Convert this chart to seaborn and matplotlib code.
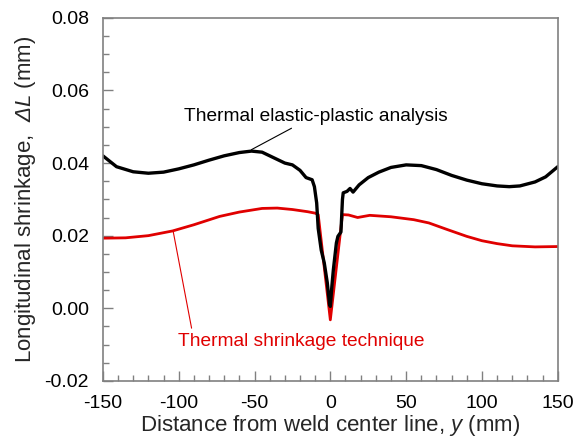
import matplotlib
matplotlib.use("Agg")
import matplotlib.pyplot as plt
import seaborn as sns
import pandas as pd
from matplotlib.ticker import MultipleLocator

# ---- data ----
elastic_x = [-150, -141, -130, -120, -110, -100, -90, -80, -70, -60, -52, -45, -40, -35,
             -30, -25, -20, -16, -12, -10.5, -9, -8, -6, -4, -2, -0.5, 0, 1, 2, 4, 5, 7,
             8, 8.5, 11, 13, 15, 19, 25, 32, 40, 50, 60, 70, 80, 90, 100, 110, 118, 125,
             135, 142, 150]
elastic_y = [0.0420, 0.0390, 0.0376, 0.0372, 0.0375, 0.0384, 0.0395, 0.0408, 0.0420, 0.0429,
             0.0433, 0.0430, 0.0420, 0.0410, 0.0400, 0.0395, 0.0380, 0.0360, 0.0354, 0.0335,
             0.0290, 0.0220, 0.0160, 0.0125, 0.0070, 0.0010, 0.0005, 0.0060, 0.0106, 0.0180,
             0.0198, 0.0210, 0.0300, 0.0318, 0.0322, 0.0330, 0.0320, 0.0340, 0.0360, 0.0375,
             0.0388, 0.0395, 0.0393, 0.0382, 0.0366, 0.0353, 0.0343, 0.0337, 0.0335, 0.0337,
             0.0348, 0.0362, 0.0390]

shrink_x = [-150, -135, -120, -104, -90, -73, -60, -45, -35, -25, -15, -10, -8, 0, 8, 12,
            18, 26, 40, 55, 65, 77, 90, 100, 110, 120, 135, 150]
shrink_y = [0.0193, 0.0194, 0.0200, 0.0213, 0.0230, 0.0253, 0.0265, 0.0275, 0.0276, 0.0272,
            0.0266, 0.0262, 0.0258, -0.0032, 0.0258, 0.0257, 0.0250, 0.0256, 0.0252, 0.0244,
            0.0235, 0.0217, 0.0198, 0.0186, 0.0178, 0.0172, 0.0169, 0.0170]

x_ticks = [-150, -100, -50, 0, 50, 100, 150]
y_ticks = [-0.02, 0.00, 0.02, 0.04, 0.06, 0.08]
label_elastic = "Thermal elastic-plastic analysis"
label_shrink = "Thermal shrinkage technique"

# ---- style ----
sns.set_style("white")
plt.rcParams['font.family'] = ['Liberation Sans', 'DejaVu Sans']
plt.rcParams['mathtext.fontset'] = 'custom'
plt.rcParams['mathtext.rm'] = 'Liberation Sans'
plt.rcParams['mathtext.sf'] = 'Liberation Sans:italic'
plt.rcParams['mathtext.it'] = 'Liberation Sans:italic'

fig, ax = plt.subplots(figsize=(5.78, 4.48), dpi=100)
fig.subplots_adjust(left=0.178, right=0.965, top=0.960, bottom=0.150)

df_e = pd.DataFrame({"x": elastic_x, "y": elastic_y})
df_s = pd.DataFrame({"x": shrink_x, "y": shrink_y})
sns.lineplot(data=df_s, x="x", y="y", ax=ax, color="#e00000", lw=2.0,
             estimator=None, sort=False)
sns.lineplot(data=df_e, x="x", y="y", ax=ax, color="black", lw=2.4,
             estimator=None, sort=False)

ax.set_xlim(-150, 150)
ax.set_ylim(-0.02, 0.08)
ax.set_xticks(x_ticks)
ax.set_yticks(y_ticks)
ax.set_xticklabels([f"{v}" for v in x_ticks])
ax.set_yticklabels([f"{v:.2f}" for v in y_ticks])
ax.xaxis.set_minor_locator(MultipleLocator(10))
ax.yaxis.set_minor_locator(MultipleLocator(0.005))
ax.tick_params(which='both', direction='in', colors='#808080', labelcolor='black',
               labelsize=14, top=False, right=False, left=True, bottom=True)
ax.tick_params(which='major', length=7, width=1)
ax.tick_params(which='minor', length=4, width=1)
ax.tick_params(axis='y', which='major', pad=10)
ax.tick_params(axis='x', which='major', pad=10)
for sp in ax.spines.values():
    sp.set_color('#808080')
    sp.set_linewidth(1.2)

ax.set_xlabel(r"Distance from weld center line, $\mathsf{y}$ (mm)", fontsize=16, labelpad=1)
ax.set_ylabel(r"Longitudinal shrinkage,  $\mathsf{\Delta L}$ (mm)", fontsize=16, labelpad=5)

# annotations
ax.plot([-52, -25.6], [0.0437, 0.0496], color='black', lw=0.8)
ax.text(-9.6, 0.0528, label_elastic, ha='center', va='center', fontsize=13.8, color='black')
ax.plot([-103.6, -91.5], [0.0211, -0.0055], color='#e00000', lw=0.8)
ax.text(-100.3, -0.0092, label_shrink, ha='left', va='center', fontsize=13.8, color='#e00000')

fig.savefig("out.png", dpi=100, facecolor='white')
